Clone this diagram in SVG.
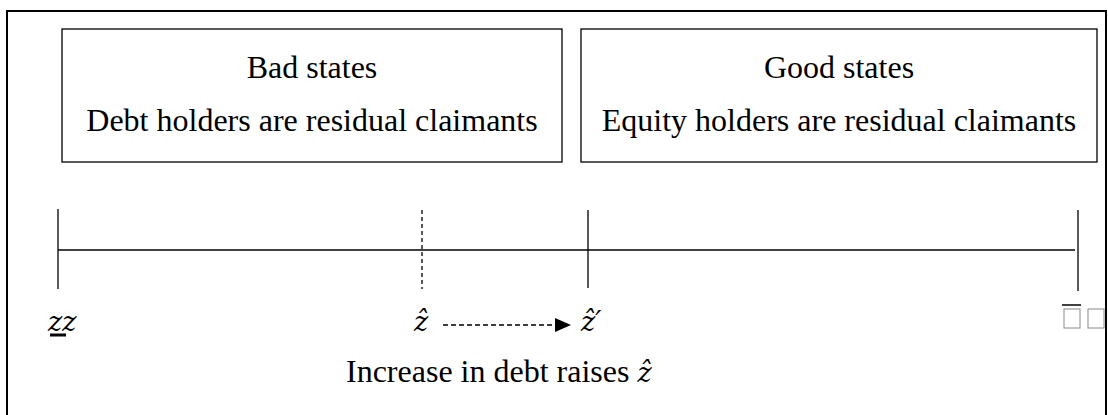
<svg xmlns="http://www.w3.org/2000/svg" width="1108" height="415" viewBox="0 0 1108 415">
<defs>
<style>
.t{font-family:"Liberation Serif","Times New Roman",serif;font-size:32px;fill:#000}
.m{font-family:"DejaVu Serif","Liberation Serif",serif;font-style:italic;font-size:27px;fill:#000}
.box{fill:#fff;stroke:#000;stroke-width:1.3}
.ln{stroke:#000;stroke-width:1.3;fill:none}
</style>
<marker id="ah" markerWidth="16" markerHeight="14" refX="15" refY="7" orient="auto" markerUnits="userSpaceOnUse">
<path d="M0,0 L16,7 L0,14 Z" fill="#000"/>
</marker>
</defs>
<rect width="1108" height="415" fill="#fff"/>
<rect id="frame" x="7" y="11" width="1099" height="420" fill="none" stroke="#000" stroke-width="2"/>
<g id="bad">
<rect class="box" x="62" y="29" width="500" height="133"/>
<text class="t" x="312" y="78" text-anchor="middle">Bad states</text>
<text class="t" x="312" y="131" text-anchor="middle">Debt holders are residual claimants</text>
</g>
<g id="good">
<rect class="box" x="581" y="29" width="516" height="133"/>
<text class="t" x="839" y="78" text-anchor="middle">Good states</text>
<text class="t" x="839" y="131" text-anchor="middle">Equity holders are residual claimants</text>
</g>
<g id="connectors">
<line class="ln" x1="58" y1="250" x2="1075" y2="250"/>
<line class="ln" x1="58" y1="209" x2="58" y2="289"/>
<line class="ln" x1="422" y1="210" x2="422" y2="289" stroke-dasharray="4,3"/>
<line class="ln" x1="588" y1="210" x2="588" y2="288"/>
<line class="ln" x1="1078" y1="210" x2="1078" y2="291"/>
<line class="ln" x1="443" y1="325" x2="570" y2="325" stroke-dasharray="5,3" marker-end="url(#ah)"/>
</g>
<g id="labels">
<text class="m" x="48" y="331">zz</text>
<line x1="50" y1="335" x2="66" y2="335" stroke="#000" stroke-width="3"/>
<text class="m" x="414" y="331">z&#770;</text>
<text class="m" x="581" y="331">z&#770;&#8242;</text>
<line x1="1062" y1="305" x2="1081" y2="305" stroke="#000" stroke-width="1.5"/>
<rect x="1064" y="309" width="16" height="19" fill="none" stroke="#888" stroke-width="1"/>
<rect x="1088" y="309" width="16" height="19" fill="none" stroke="#888" stroke-width="1"/>
<text class="t" x="346" y="382">Increase in debt raises <tspan class="m">z&#770;</tspan></text>
</g>
</svg>
